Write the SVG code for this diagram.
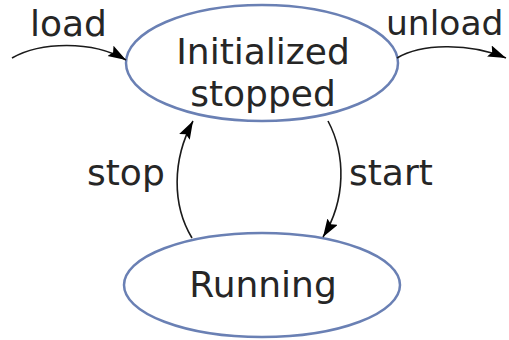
<svg xmlns="http://www.w3.org/2000/svg" width="509" height="340" viewBox="0 0 509 340">
  <defs>
    <marker id="arrow" markerUnits="userSpaceOnUse" markerWidth="20" markerHeight="14" refX="18" refY="6" orient="auto">
      <path d="M0,0 L18,6 L0,12 L3,6 z" fill="#000"/>
    </marker>
    <style>
      .state { fill: #fff; stroke: #6a80b4; stroke-width: 2.5; }
      .edge { fill: none; stroke: #1a1a1a; stroke-width: 1.6; marker-end: url(#arrow); }
      text { font-family: "DejaVu Sans", "Noto Sans", sans-serif; font-size: 36px; fill: #262626; }
      .c { text-anchor: middle; }
    </style>
  </defs>
  <rect width="509" height="340" fill="#fff"/>

  <g id="node-initialized">
    <ellipse class="state" cx="262" cy="63" rx="136" ry="58"/>
    <text class="c" x="263" y="64">Initialized</text>
    <text class="c" x="263" y="106">stopped</text>
  </g>

  <g id="node-running">
    <ellipse class="state" cx="262" cy="285" rx="138" ry="52"/>
    <text class="c" x="263" y="297">Running</text>
  </g>

  <g id="connectors">
    <path class="edge" d="M12,58 C40,42 92,40 126,60"/>
    <path class="edge" d="M397,58 C420,44 468,42 506,58"/>
    <path class="edge" d="M328,121 C346,155 346,200 323,237"/>
    <path class="edge" d="M192,238 C172,205 172,160 193,121"/>
    <text x="30" y="36">load</text>
    <text x="386" y="35" style="font-size:34.5px">unload</text>
    <text x="87" y="185">stop</text>
    <text x="349" y="185">start</text>
  </g>
</svg>
